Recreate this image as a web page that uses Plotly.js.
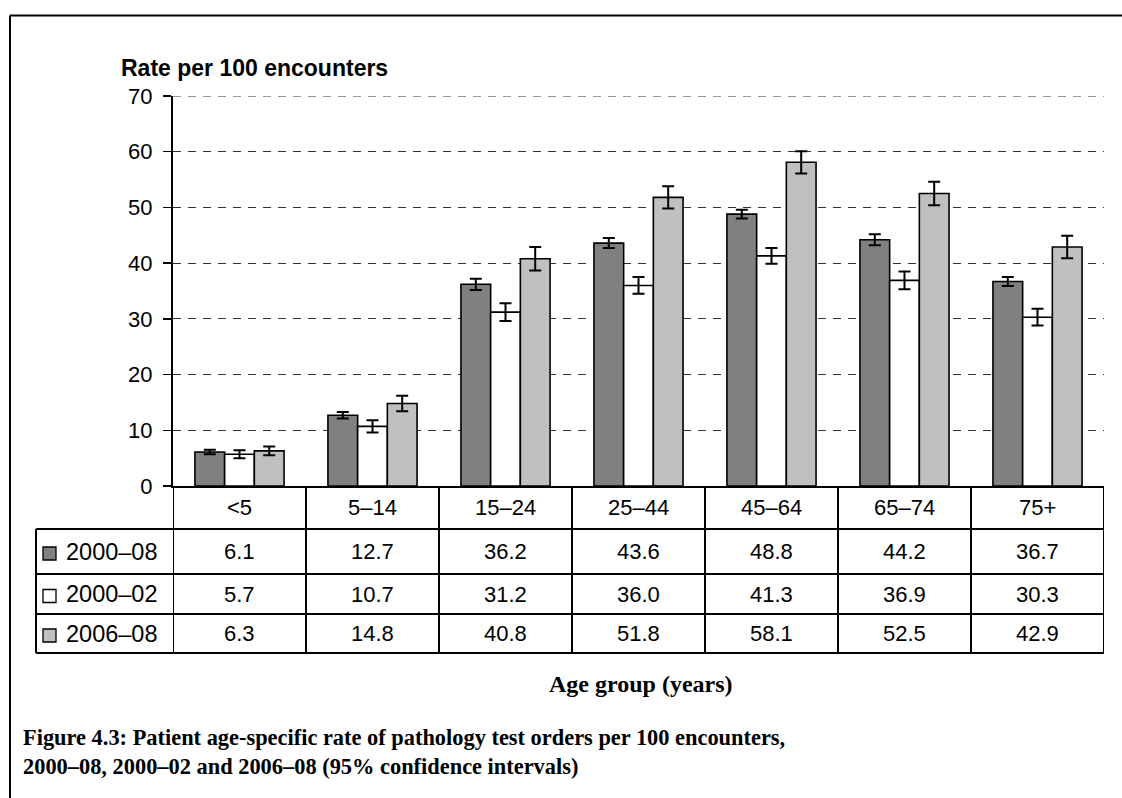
<!DOCTYPE html>
<html>
<head>
<meta charset="utf-8">
<script src="https://cdn.plot.ly/plotly-3.0.1.min.js"></script>
<style>html,body{margin:0;padding:0;background:#fff;}#chart{width:1122px;height:798px;}</style>
</head>
<body>
<div id="chart"></div>
<script>
// ---- data ----
const ageGroups = ['<5', '5–14', '15–24', '25–44', '45–64', '65–74', '75+'];
const seriesNames = ['2000–08', '2000–02', '2006–08'];
const rate200008 = [6.1, 12.7, 36.2, 43.6, 48.8, 44.2, 36.7];
const rate200002 = [5.7, 10.7, 31.2, 36.0, 41.3, 36.9, 30.3];
const rate200608 = [6.3, 14.8, 40.8, 51.8, 58.1, 52.5, 42.9];
const ci200008 = [0.4, 0.6, 1.0, 0.9, 0.8, 1.0, 0.8];
const ci200002 = [0.7, 1.1, 1.6, 1.5, 1.4, 1.6, 1.5];
const ci200608 = [0.8, 1.4, 2.1, 2.0, 2.0, 2.1, 2.0];
const seriesColors = ['#808080', '#ffffff', '#c0c0c0'];
const yTicks = [0, 10, 20, 30, 40, 50, 60, 70];

const seriesValues = [rate200008, rate200002, rate200608];
const seriesCI = [ci200008, ci200002, ci200608];

// ---- layout geometry (pixels) ----
const W = 1122, H = 798;
const mL = 173, mR = 18, mT = 96, mB = 312;
const plotW = W - mL - mR, plotH = H - mT - mB;
const px = x => (x - mL) / plotW;            // pixel x -> paper x
const py = y => (H - mB - y) / plotH;        // pixel y -> paper y

const SANS = 'Liberation Sans, Arial, sans-serif';
const SERIF = 'Liberation Serif, Times New Roman, serif';

const traces = seriesNames.map((name, i) => ({
  type: 'bar',
  name: name,
  x: ageGroups,
  y: seriesValues[i],
  marker: { color: seriesColors[i], line: { color: '#000', width: 1.6 } },
  error_y: { type: 'data', array: seriesCI[i], visible: true, color: '#000', thickness: 2, width: 6 },
  hoverinfo: 'x+y'
}));

// table rows (pixel y boundaries)
const rowEdges = [486, 529, 574, 614, 653];
const tableLeft = 36;

const shapes = [];
const lineStyle = { color: '#000', width: 2 };
// top gridline (at range edge, not drawn by axis grid)
shapes.push({ type: 'line', xref: 'paper', yref: 'y', x0: 0, x1: 1, y0: yTicks[yTicks.length - 1], y1: yTicks[yTicks.length - 1],
  line: { color: '#333', width: 1, dash: '8px,7px' }, layer: 'below' });
// horizontal table lines
rowEdges.slice(1).forEach(y => {
  shapes.push({ type: 'line', xref: 'paper', yref: 'paper', x0: px(tableLeft), x1: 1, y0: py(y), y1: py(y), line: lineStyle });
});
// vertical lines between categories (data coords)
for (let i = 0; i <= ageGroups.length; i++) {
  shapes.push({ type: 'line', xref: 'x', yref: 'paper', x0: i - 0.5, x1: i - 0.5, y0: py(rowEdges[0]), y1: py(rowEdges[4]), line: lineStyle });
}
// left edge of label column
shapes.push({ type: 'line', xref: 'paper', yref: 'paper', x0: px(tableLeft), x1: px(tableLeft), y0: py(rowEdges[1]), y1: py(rowEdges[4]), line: lineStyle });
// legend squares
seriesNames.forEach((n, i) => {
  const cy = (rowEdges[i + 1] + rowEdges[i + 2]) / 2 + 2;
  shapes.push({ type: 'rect', xref: 'paper', yref: 'paper', x0: px(43), x1: px(56), y0: py(cy - 6.5), y1: py(cy + 6.5),
    fillcolor: seriesColors[i], line: { color: '#000', width: 1.3 } });
});
// outer frame
shapes.push({ type: 'line', xref: 'paper', yref: 'paper', x0: px(10), x1: px(W), y0: py(15.5), y1: py(15.5), line: lineStyle });
shapes.push({ type: 'line', xref: 'paper', yref: 'paper', x0: px(10), x1: px(10), y0: py(15.5), y1: py(H + 5), line: lineStyle });

const annotations = [];
const tFont = { family: SANS, size: 22, color: '#000' };
// header labels
ageGroups.forEach(g => {
  annotations.push({ xref: 'x', yref: 'paper', x: g, y: py((rowEdges[0] + rowEdges[1]) / 2), text: g.replace('<', '&lt;'),
    showarrow: false, xanchor: 'center', yanchor: 'middle', font: tFont });
});
// value rows
seriesNames.forEach((n, i) => {
  const cy = (rowEdges[i + 1] + rowEdges[i + 2]) / 2;
  annotations.push({ xref: 'paper', yref: 'paper', x: px(64), y: py(cy), text: n, showarrow: false, xanchor: 'left', yanchor: 'middle',
    font: { family: SANS, size: 23.5, color: '#000' } });
  seriesValues[i].forEach((v, j) => {
    annotations.push({ xref: 'x', yref: 'paper', x: ageGroups[j], y: py(cy), text: v.toFixed(1),
      showarrow: false, xanchor: 'center', yanchor: 'middle', font: tFont });
  });
});
// axis titles & caption
annotations.push({ xref: 'paper', yref: 'paper', x: px(119), y: py(68), text: '<b>Rate per 100 encounters</b>', showarrow: false,
  xanchor: 'left', yanchor: 'middle', font: { family: SANS, size: 23, color: '#000' } });
annotations.push({ xref: 'paper', yref: 'paper', x: px(641), y: py(684), text: '<b>Age group (years)</b>', showarrow: false,
  xanchor: 'center', yanchor: 'middle', font: { family: SERIF, size: 24, color: '#000' } });
annotations.push({ xref: 'paper', yref: 'paper', x: px(21), y: py(752), align: 'left',
  text: '<b>Figure 4.3: Patient age-specific rate of pathology test orders per 100 encounters,<br>2000–08, 2000–02 and 2006–08 (95% confidence intervals)</b>',
  showarrow: false, xanchor: 'left', yanchor: 'middle', font: { family: SERIF, size: 22.4, color: '#000' } });

const layout = {
  width: W, height: H,
  margin: { l: mL, r: mR, t: mT, b: mB, pad: 0 },
  paper_bgcolor: '#fff', plot_bgcolor: '#fff',
  showlegend: false,
  barmode: 'group', bargap: 0.33, bargroupgap: 0,
  xaxis: { type: 'category', range: [-0.5, ageGroups.length - 0.5], showticklabels: false, ticks: '',
    showgrid: false, zeroline: false, showline: true, linecolor: '#000', linewidth: 2, fixedrange: true },
  yaxis: { range: [0, 70], tickvals: yTicks, ticks: 'outside', ticklen: 8, tickwidth: 1.5, tickcolor: '#000',
    ticklabelstandoff: 6,
    tickfont: { family: SANS, size: 22, color: '#000' },
    showline: true, linecolor: '#000', linewidth: 2, zeroline: false,
    showgrid: true, gridcolor: '#333', gridwidth: 1, griddash: '8px,7px', fixedrange: true },
  shapes: shapes,
  annotations: annotations,
  font: { family: SANS, color: '#000' }
};

Plotly.newPlot('chart', traces, layout, { displayModeBar: false, staticPlot: true });
</script>
</body>
</html>
